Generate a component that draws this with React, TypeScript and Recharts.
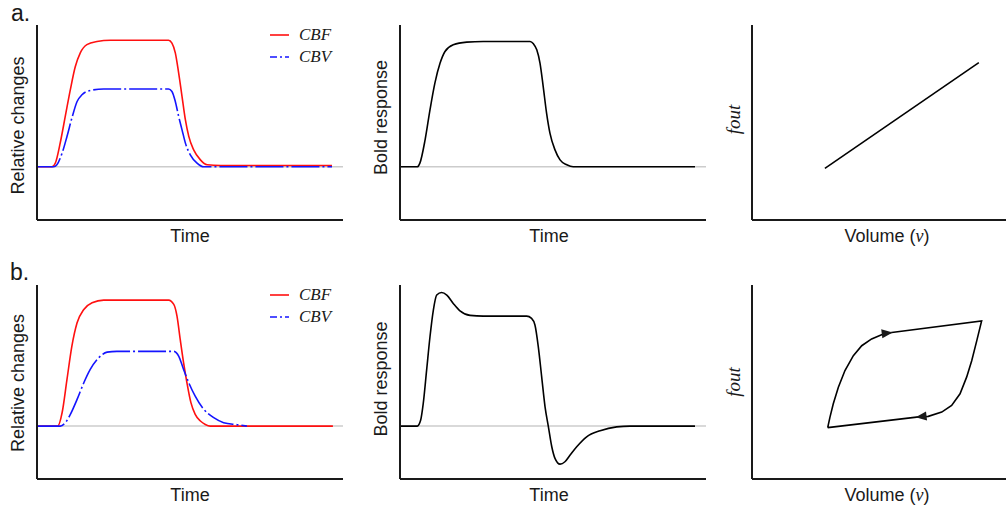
import { Legend, Line, LineChart, ReferenceLine, XAxis, YAxis } from "recharts";

const SANS = '"Liberation Sans", Arial, Helvetica, sans-serif';
const SERIF = '"Liberation Serif", "Times New Roman", serif';
const INK = "#1a1a1a";
const RED = "#ff1010";
const BLUE = "#1414ff";

// time runs 0..100 (arbitrary), responses are relative to the CBF plateau (= 1)
const timeDomain: [number, number] = [0, 100];
const responseDomain: [number, number] = [-0.42, 1.12];
const unitDomain: [number, number] = [0, 1];

// a. balloon model without delay
const cbfA: [number, number][] = [
  [0, 0], [4.9, 0], [6.0, 0.03], [7.6, 0.19], [9.25, 0.4], [10.9, 0.61], [12.5, 0.79], [14.15, 0.9],
  [16.3, 0.965], [19.6, 0.99], [24, 1], [43, 1], [44.1, 0.977], [45.2, 0.9], [46.3, 0.74], [47.4, 0.555],
  [48.5, 0.37], [49.6, 0.24], [51.2, 0.134], [53.4, 0.055], [55.6, 0.016], [60, 0.01], [96.4, 0.01],
];
const cbvA: [number, number][] = [
  [0, 0], [5.5, 0], [6.5, 0.016], [8.2, 0.108], [9.8, 0.24], [11.4, 0.385], [13.1, 0.516], [14.7, 0.569],
  [17.4, 0.603], [21.8, 0.614], [43, 0.614], [44.1, 0.595], [45.2, 0.516], [46.3, 0.397], [47.4, 0.292],
  [48.5, 0.187], [50.1, 0.095], [52.3, 0.029], [54.5, 0], [96.4, 0],
];
const boldA: [number, number][] = [
  [0, 0], [5.65, 0], [6.5, 0.029], [8.2, 0.213], [9.8, 0.45], [11.4, 0.661], [13.1, 0.819], [14.7, 0.911],
  [17.4, 0.964], [21.8, 0.985], [27.2, 0.99], [42.5, 0.99], [43.6, 0.972], [44.7, 0.924], [45.75, 0.819],
  [46.8, 0.634], [47.9, 0.424], [49, 0.266], [50.65, 0.134], [52.3, 0.055], [54.5, 0.016], [56.6, 0], [96.4, 0],
];
const foutA: [number, number][] = [
  [0.287, 0.265], [0.893, 0.807],
];

// b. CBV lags behind CBF -> overshoot, undershoot, hysteresis
const cbfB: [number, number][] = [
  [0, 0], [6.8, 0], [8.2, 0.106], [9.8, 0.371], [11.4, 0.635], [13.1, 0.82], [15.3, 0.926], [18, 0.979],
  [21.8, 1], [43, 1], [44.7, 0.966], [45.75, 0.873], [46.8, 0.688], [47.9, 0.503], [49, 0.344], [50.3, 0.186],
  [51.7, 0.093], [53.4, 0.04], [55, 0.013], [56.6, 0], [96.7, 0],
];
const cbvB: [number, number][] = [
  [0, 0], [7.6, 0], [9.25, 0.027], [10.9, 0.093], [13.1, 0.212], [15.3, 0.344], [17.4, 0.45], [20.2, 0.543],
  [22.9, 0.587], [26.1, 0.593], [44.7, 0.593], [46.3, 0.556], [47.9, 0.45], [49.6, 0.344], [51.7, 0.238],
  [54.5, 0.133], [57.75, 0.067], [61, 0.027], [65.4, 0.011], [68.6, 0],
];
const boldB: [number, number][] = [
  [0, 0], [5.65, 0], [6.76, 0.048], [7.6, 0.18], [8.7, 0.444], [9.8, 0.709], [10.9, 0.921], [12, 1.04],
  [13.6, 1.061], [15.3, 1.04], [17.4, 0.974], [19.6, 0.915], [22.9, 0.879], [27.2, 0.873], [41.4, 0.873],
  [43, 0.855], [44.1, 0.802], [45.2, 0.629], [46.3, 0.391], [47.4, 0.153], [48.5, -0.006], [49.6, -0.164],
  [50.65, -0.256], [52.3, -0.302], [53.9, -0.283], [55.6, -0.23], [57.75, -0.164], [61, -0.085],
  [65.4, -0.037], [70.8, -0.006], [75.2, 0], [96.4, 0],
];
const foutB: [number, number][] = [
  [0.298, 0.265], [0.307, 0.319], [0.32, 0.388], [0.34, 0.473], [0.366, 0.559], [0.399, 0.636],
  [0.432, 0.687], [0.471, 0.722], [0.517, 0.747], [0.55, 0.755], [0.904, 0.815], [0.885, 0.713],
  [0.865, 0.61], [0.845, 0.525], [0.819, 0.439], [0.786, 0.379], [0.747, 0.345], [0.694, 0.323],
  [0.648, 0.319], [0.298, 0.265],
];
// points of the loop that carry a direction arrowhead
const loopArrows = [9, 18];

const series = (rows: [number, number][]) => rows.map(([t, y]) => ({ t, y }));
const flow = (rows: [number, number][]) => rows.map(([vol, fout]) => ({ vol, fout }));

// plot boxes on the page
const COLS = [
  { x0: 37, x1: 343 },
  { x0: 400, x1: 706 },
  { x0: 752, x1: 1006 },
];
const ROWS = [
  { y0: 25, y1: 220 },
  { y0: 285, y1: 479 },
];
// axes get 1px of room (recharts skips zero-size axes), margins make up the rest
const AX = 1;
const M = { top: 5, right: 2, bottom: 28, left: 37 };

const axisStroke = { stroke: INK, strokeWidth: 2 };

function xTitle(content: React.ReactNode, dx = 0) {
  return (props: any) => {
    const { x, y, width } = props.viewBox;
    return (
      <text x={x + width / 2 + dx} y={y + 22} textAnchor="middle" fontFamily={SANS} fontSize={18} fill={INK}>
        {content}
      </text>
    );
  };
}

function yTitle(content: string, gap: number, dy: number, serif = false) {
  return (props: any) => {
    const { x, y, width, height } = props.viewBox;
    const cx = x + width - gap;
    const cy = y + height / 2 + dy;
    return (
      <text
        x={cx}
        y={cy}
        transform={`rotate(-90, ${cx}, ${cy})`}
        textAnchor="middle"
        fontFamily={serif ? SERIF : SANS}
        fontStyle={serif ? "italic" : "normal"}
        fontSize={serif ? 19 : 18}
        fill={INK}
      >
        {content}
      </text>
    );
  };
}

const legendDash: Record<string, string | undefined> = { CBF: undefined, CBV: "7 3 2 3" };

function CurveLegend({ payload }: any) {
  return (
    <div style={{ fontFamily: SERIF, fontStyle: "italic", fontSize: 17, color: INK }}>
      {(payload || []).map((e: any) => (
        <div key={e.value} style={{ display: "flex", alignItems: "center", height: 22 }}>
          <svg width={19} height={22}>
            <line x1={0} x2={19} y1={11} y2={11} stroke={e.color} strokeWidth={1.6} strokeDasharray={legendDash[e.value]} />
          </svg>
          <span style={{ marginLeft: 10 }}>{e.value}</span>
        </div>
      ))}
    </div>
  );
}

function Panel({ col, row, children }: { col: number; row: number; children: React.ReactNode }) {
  const c = COLS[col];
  const r = ROWS[row];
  const right = col === 2 ? 0 : M.right;
  const width = c.x1 - c.x0 + M.left + right;
  const height = r.y1 - r.y0 + M.top + M.bottom;
  return (
    <div style={{ position: "absolute", left: c.x0 - M.left, top: r.y0 - M.top }}>
      <LineChart
        width={width}
        height={height}
        margin={{ top: M.top, right, bottom: M.bottom - AX, left: M.left - AX }}
      >
        {children}
      </LineChart>
    </div>
  );
}

const timeAxis = (dx = 0) => (
  <XAxis
    type="number"
    dataKey="t"
    domain={timeDomain}
    height={AX}
    tick={false}
    tickLine={false}
    axisLine={axisStroke}
    label={xTitle("Time", dx)}
  />
);
const responseAxis = (title: string, dy: number) => (
  <YAxis type="number" domain={responseDomain} width={AX} tick={false} tickLine={false} axisLine={axisStroke} label={yTitle(title, 13, dy)} />
);
const volumeAxis = () => (
  <XAxis
    type="number"
    dataKey="vol"
    domain={unitDomain}
    height={AX}
    tick={false}
    tickLine={false}
    axisLine={axisStroke}
    label={xTitle(
      <>
        <tspan>Volume (</tspan>
        <tspan fontFamily={SERIF} fontStyle="italic">v</tspan>
        <tspan>)</tspan>
      </>,
      8,
    )}
  />
);
const foutAxis = (dy: number) => (
  <YAxis type="number" domain={unitDomain} width={AX} tick={false} tickLine={false} axisLine={axisStroke} label={yTitle("fout", 12, dy, true)} />
);
const baseline = () => <ReferenceLine y={0} stroke="#cccccc" strokeWidth={1.5} />;
const legend = () => (
  <Legend
    layout="horizontal"
    align="center"
    verticalAlign="middle"
    content={<CurveLegend />}
    wrapperStyle={{ left: 270, top: 4, width: "auto" }}
  />
);

const loopPts = flow(foutB);
const loopW = COLS[2].x1 - COLS[2].x0;
const loopH = ROWS[1].y1 - ROWS[1].y0;

function LoopArrow(props: any) {
  const { cx, cy, index } = props;
  if (!loopArrows.includes(index) || cx == null) return <g key={`d${index}`} />;
  const a = loopPts[index];
  const b = loopPts[index + 1];
  const ang = (Math.atan2(-(b.fout - a.fout) * loopH, (b.vol - a.vol) * loopW) * 180) / Math.PI;
  return <path key={`d${index}`} d="M1,0 L-10,-4.5 L-10,4.5 Z" transform={`translate(${cx},${cy}) rotate(${ang})`} fill={INK} />;
}

const curve = { type: "monotone" as const, dot: false, activeDot: false, isAnimationActive: false, strokeWidth: 1.6 };

const panelTag = { position: "absolute" as const, fontFamily: SANS, fontSize: 23, lineHeight: "21px", color: INK };

export default function App() {
  return (
    <div style={{ position: "absolute", left: 0, top: 0, width: 1006, height: 508, overflow: "hidden", background: "#fff" }}>
      <div style={{ ...panelTag, left: 11, top: 3 }}>a.</div>
      <div style={{ ...panelTag, left: 10, top: 262 }}>b.</div>

      <Panel col={0} row={0}>
        {timeAxis()}
        {responseAxis("Relative changes", 3)}
        {baseline()}
        <Line {...curve} data={series(cbfA)} dataKey="y" name="CBF" stroke={RED} />
        <Line {...curve} data={series(cbvA)} dataKey="y" name="CBV" stroke={BLUE} strokeDasharray="28 3 2 3" />
        {legend()}
      </Panel>
      <Panel col={1} row={0}>
        {timeAxis(-4)}
        {responseAxis("Bold response", -5)}
        {baseline()}
        <Line {...curve} data={series(boldA)} dataKey="y" name="BOLD" stroke="#000" />
      </Panel>
      <Panel col={2} row={0}>
        {volumeAxis()}
        {foutAxis(-3)}
        <Line {...curve} type="linear" data={flow(foutA)} dataKey="fout" name="fout" stroke="#000" />
      </Panel>

      <Panel col={0} row={1}>
        {timeAxis()}
        {responseAxis("Relative changes", 1)}
        {baseline()}
        <Line {...curve} data={series(cbfB)} dataKey="y" name="CBF" stroke={RED} />
        <Line {...curve} data={series(cbvB)} dataKey="y" name="CBV" stroke={BLUE} strokeDasharray="28 3 2 3" />
        {legend()}
      </Panel>
      <Panel col={1} row={1}>
        {timeAxis(-4)}
        {responseAxis("Bold response", -3)}
        {baseline()}
        <Line {...curve} data={series(boldB)} dataKey="y" name="BOLD" stroke="#000" />
      </Panel>
      <Panel col={2} row={1}>
        {volumeAxis()}
        {foutAxis(0)}
        <Line {...curve} type="linear" data={loopPts} dataKey="fout" name="fout" stroke="#000" dot={LoopArrow} />
      </Panel>
    </div>
  );
}
